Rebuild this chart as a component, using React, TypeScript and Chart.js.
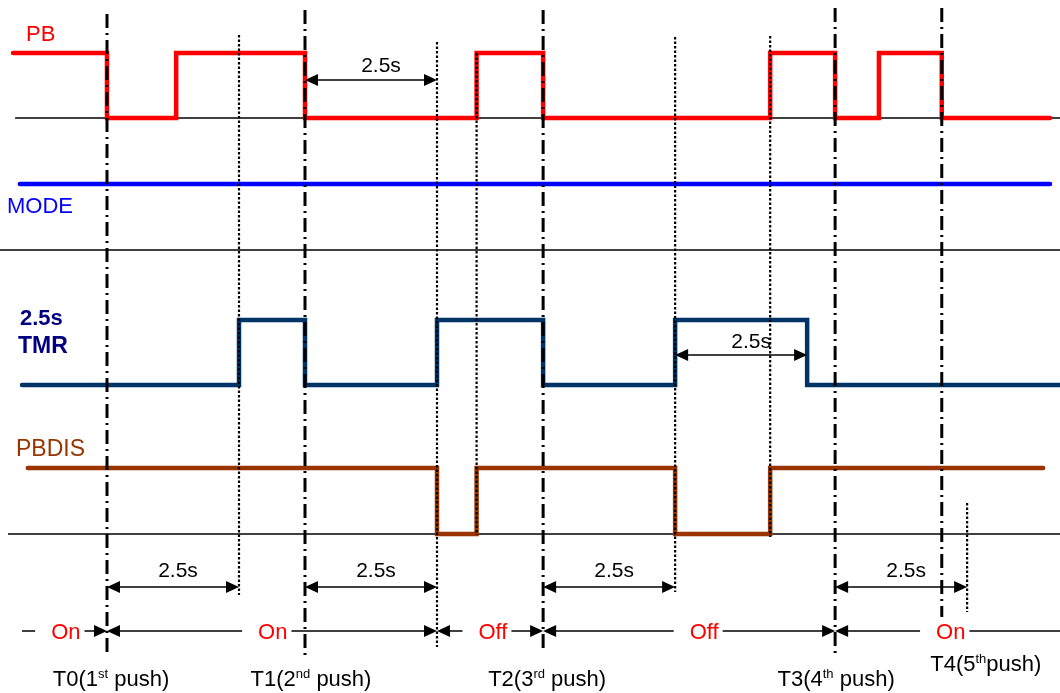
import React, { useEffect, useRef } from 'react';
import { Chart, registerables } from 'chart.js';

Chart.register(...registerables);

// ---------- data (time axis in seconds, T0 = first push) ----------
const TIMER_S = 2.5;
const PUSH_TIMES = [0, 3.75, 8.26, 13.79, 15.81];
const PUSH_MAIN = ['T0(1', 'T1(2', 'T2(3', 'T3(4', 'T4(5'];
const PUSH_SUP = ['st', 'nd', 'rd', 'th', 'th'];
const PUSH_TAIL = [' push)', ' push)', ' push)', ' push)', 'push)'];
const MARK_TIMES = [2.5, 6.25, 7.0, 10.76, 12.56, 16.29];

const PB_TIMES = [-1.78, 0, 1.31, 3.75, 7.0, 8.26, 12.56, 13.79, 14.62, 15.81, 17.86];
const PB_LEVELS = [1, 0, 1, 0, 1, 0, 1, 0, 1, 0, 0];
const MODE_TIMES = [-1.65, 17.86];
const MODE_LEVELS = [1, 1];
const TMR_TIMES = [-1.61, 2.5, 3.75, 6.25, 8.26, 10.76, 13.26, 18.3];
const TMR_LEVELS = [0, 1, 0, 1, 0, 1, 0, 0];
const PBDIS_TIMES = [-1.5, 6.25, 7.0, 10.76, 12.56, 17.73];
const PBDIS_LEVELS = [1, 0, 1, 0, 1, 1];

const STATE_LABELS = ['On', 'On', 'Off', 'Off', 'On'];
const STATE_BOUNDS = [-1.61, 0, 6.25, 8.26, 13.79, 18.05];
const STATE_LABEL_TIMES = [-0.78, 3.14, 7.31, 11.31, 15.98];

const SPAN_BOTTOM_STARTS = [0, 3.75, 8.26, 13.79];
const SPAN_PB_STARTS = [3.75];
const SPAN_TMR_STARTS = [10.76];
const SPAN_LABEL = '2.5s';

// ---------- layout (pixel units on the y scale) ----------
const W = 1060;
const H = 693;
const X_MIN = -2.0265;
const X_MAX = 18.0492;
const ROW_PB = { low: 118, high: 53 };
const ROW_MODE = { low: 250, high: 184 };
const ROW_TMR = { low: 385, high: 320 };
const ROW_PBDIS = { low: 534, high: 468 };
const BASELINES = [
  { y: 118, from: -1.74, to: X_MAX },
  { y: 250, from: X_MIN, to: X_MAX },
  { y: 534, from: -1.875, to: X_MAX },
];
const DASHDOT_Y = [[14, 655], [10, 658], [10, 650], [8, 655], [8, 617]];
const DOTTED_Y = [[35, 595], [42, 647], [53, 535], [37, 592], [36, 537], [503, 612]];
const PUSH_LABEL_DX = [4, 6, 4, 1, 44];
const PUSH_LABEL_BASE = [686, 686, 686, 686, 671];
const FONT = '"Liberation Sans", Arial, Helvetica, sans-serif';

const stepData = (times: number[], levels: number[], row: { low: number; high: number }) =>
  times.map((t, i) => ({ x: t, y: row.low - levels[i] * (row.low - row.high) }));

const signal = (label: string, times: number[], levels: number[], row: any, color: string) => ({
  label,
  data: stepData(times, levels, row),
  borderColor: color,
  borderWidth: 4.5,
  borderCapStyle: 'round',
  borderJoinStyle: 'miter',
  stepped: 'before',
  pointRadius: 0,
  order: 1,
});

function arrowHead(ctx: CanvasRenderingContext2D, tipX: number, y: number, dir: number) {
  const len = 13;
  const half = 6;
  ctx.beginPath();
  ctx.moveTo(tipX, y);
  ctx.lineTo(tipX - dir * len, y - half);
  ctx.lineTo(tipX - dir * len, y + half);
  ctx.closePath();
  ctx.fill();
}

function hLine(ctx: CanvasRenderingContext2D, x1: number, x2: number, y: number) {
  ctx.beginPath();
  ctx.moveTo(x1, y);
  ctx.lineTo(x2, y);
  ctx.stroke();
}

function doubleArrow(ctx: CanvasRenderingContext2D, x1: number, x2: number, y: number) {
  hLine(ctx, x1 + 6, x2 - 6, y);
  arrowHead(ctx, x1, y, -1);
  arrowHead(ctx, x2, y, 1);
}

const annotations = {
  id: 'timingAnnotations',
  afterDatasetsDraw(chart: any) {
    const { ctx, scales } = chart;
    const X = (t: number) => scales.x.getPixelForValue(t);
    const Y = (v: number) => scales.y.getPixelForValue(v);
    ctx.save();
    ctx.textBaseline = 'alphabetic';
    ctx.strokeStyle = '#000';
    ctx.fillStyle = '#000';
    ctx.lineWidth = 1.5;
    ctx.setLineDash([]);

    // signal names
    ctx.textAlign = 'left';
    ctx.font = `22px ${FONT}`;
    ctx.fillStyle = '#ff0000';
    ctx.fillText('PB', 26, Y(41));
    ctx.fillStyle = '#0000ff';
    ctx.fillText('MODE', 7, Y(213));
    ctx.fillStyle = '#000080';
    ctx.font = `bold 22px ${FONT}`;
    ctx.fillText('2.5s', 20, Y(325));
    ctx.font = `bold 23px ${FONT}`;
    ctx.fillText('TMR', 18, Y(353));
    ctx.fillStyle = '#993300';
    ctx.font = `23px ${FONT}`;
    ctx.fillText('PBDIS', 16, Y(456));

    // 2.5s spans
    ctx.fillStyle = '#000';
    ctx.textAlign = 'center';
    ctx.font = `21px ${FONT}`;
    SPAN_PB_STARTS.forEach((t) => {
      const a = X(t), b = X(t + TIMER_S);
      doubleArrow(ctx, a, b, Y(80));
      ctx.fillText(SPAN_LABEL, (a + b) / 2 + 10, Y(72));
    });
    SPAN_TMR_STARTS.forEach((t) => {
      const a = X(t), b = X(t + TIMER_S);
      doubleArrow(ctx, a, b, Y(355));
      ctx.fillText(SPAN_LABEL, (a + b) / 2 + 10, Y(348));
    });
    SPAN_BOTTOM_STARTS.forEach((t) => {
      const a = X(t), b = X(t + TIMER_S);
      doubleArrow(ctx, a, b, Y(587));
      ctx.fillText(SPAN_LABEL, (a + b) / 2 + 5, Y(577));
    });

    // On / Off state row
    const rowY = Y(631);
    ctx.font = `22px ${FONT}`;
    STATE_LABELS.forEach((lab, i) => {
      const cx = X(STATE_LABEL_TIMES[i]);
      const w = ctx.measureText(lab).width;
      const left = X(STATE_BOUNDS[i]);
      const right = X(STATE_BOUNDS[i + 1]);
      const first = i === 0;
      const last = i === STATE_LABELS.length - 1;
      ctx.fillStyle = '#ff0000';
      ctx.fillText(lab, cx, rowY + 8);
      ctx.fillStyle = '#000';
      hLine(ctx, first ? left : left + 6, cx - w / 2 - 16, rowY);
      if (!first) arrowHead(ctx, left, rowY, -1);
      hLine(ctx, cx + w / 2 + 4, last ? right : right - 6, rowY);
      if (!last) arrowHead(ctx, right, rowY, 1);
    });

    // push labels with superscripts
    ctx.textAlign = 'left';
    ctx.fillStyle = '#000';
    PUSH_TIMES.forEach((t, i) => {
      ctx.font = `22px ${FONT}`;
      const w1 = ctx.measureText(PUSH_MAIN[i]).width;
      const w3 = ctx.measureText(PUSH_TAIL[i]).width;
      ctx.font = `13px ${FONT}`;
      const w2 = ctx.measureText(PUSH_SUP[i]).width;
      const cx = X(t) + PUSH_LABEL_DX[i];
      const base = Y(PUSH_LABEL_BASE[i]);
      const x0 = cx - (w1 + w2 + w3) / 2;
      ctx.font = `22px ${FONT}`;
      ctx.fillText(PUSH_MAIN[i], x0, base);
      ctx.fillText(PUSH_TAIL[i], x0 + w1 + w2, base);
      ctx.font = `13px ${FONT}`;
      ctx.fillText(PUSH_SUP[i], x0 + w1, base - 8);
    });
    ctx.restore();
  },
};

export default function App() {
  const ref = useRef<HTMLCanvasElement | null>(null);
  useEffect(() => {
    if (!ref.current) return;
    const datasets: any[] = [];
    PUSH_TIMES.forEach((t, i) =>
      datasets.push({
        label: 'push' + i,
        data: [{ x: t, y: DASHDOT_Y[i][0] }, { x: t, y: DASHDOT_Y[i][1] }],
        borderColor: '#000',
        borderWidth: 3,
        borderDash: [14, 5, 2, 5],
        borderCapStyle: 'butt',
        pointRadius: 0,
        order: 0,
      })
    );
    MARK_TIMES.forEach((t, i) =>
      datasets.push({
        label: 'mark' + i,
        data: [{ x: t, y: DOTTED_Y[i][0] }, { x: t, y: DOTTED_Y[i][1] }],
        borderColor: '#000',
        borderWidth: 2.2,
        borderDash: [2.5, 2],
        borderCapStyle: 'butt',
        pointRadius: 0,
        order: 0,
      })
    );
    datasets.push(signal('PB', PB_TIMES, PB_LEVELS, ROW_PB, '#ff0000'));
    datasets.push(signal('MODE', MODE_TIMES, MODE_LEVELS, ROW_MODE, '#0000ff'));
    datasets.push(signal('TMR', TMR_TIMES, TMR_LEVELS, ROW_TMR, '#003366'));
    datasets.push(signal('PBDIS', PBDIS_TIMES, PBDIS_LEVELS, ROW_PBDIS, '#993300'));
    BASELINES.forEach((b, i) =>
      datasets.push({
        label: 'base' + i,
        data: [{ x: b.from, y: b.y }, { x: b.to, y: b.y }],
        borderColor: '#000',
        borderWidth: 1.5,
        pointRadius: 0,
        order: 2,
      })
    );
    const chart = new Chart(ref.current, {
      type: 'line',
      data: { datasets },
      options: {
        responsive: false,
        devicePixelRatio: 1,
        animation: false,
        events: [],
        layout: { padding: 0 },
        plugins: { legend: { display: false }, tooltip: { enabled: false } },
        scales: {
          x: { type: 'linear', display: false, min: X_MIN, max: X_MAX },
          y: { type: 'linear', display: false, min: 0, max: H, reverse: true },
        },
        elements: { line: { tension: 0 }, point: { radius: 0 } },
      },
      plugins: [annotations],
    } as any);
    return () => chart.destroy();
  }, []);
  return (
    <div style={{ position: 'fixed', left: 0, top: 0, width: W, height: H, background: '#fff' }}>
      <canvas ref={ref} width={W} height={H} style={{ display: 'block' }} />
    </div>
  );
}
